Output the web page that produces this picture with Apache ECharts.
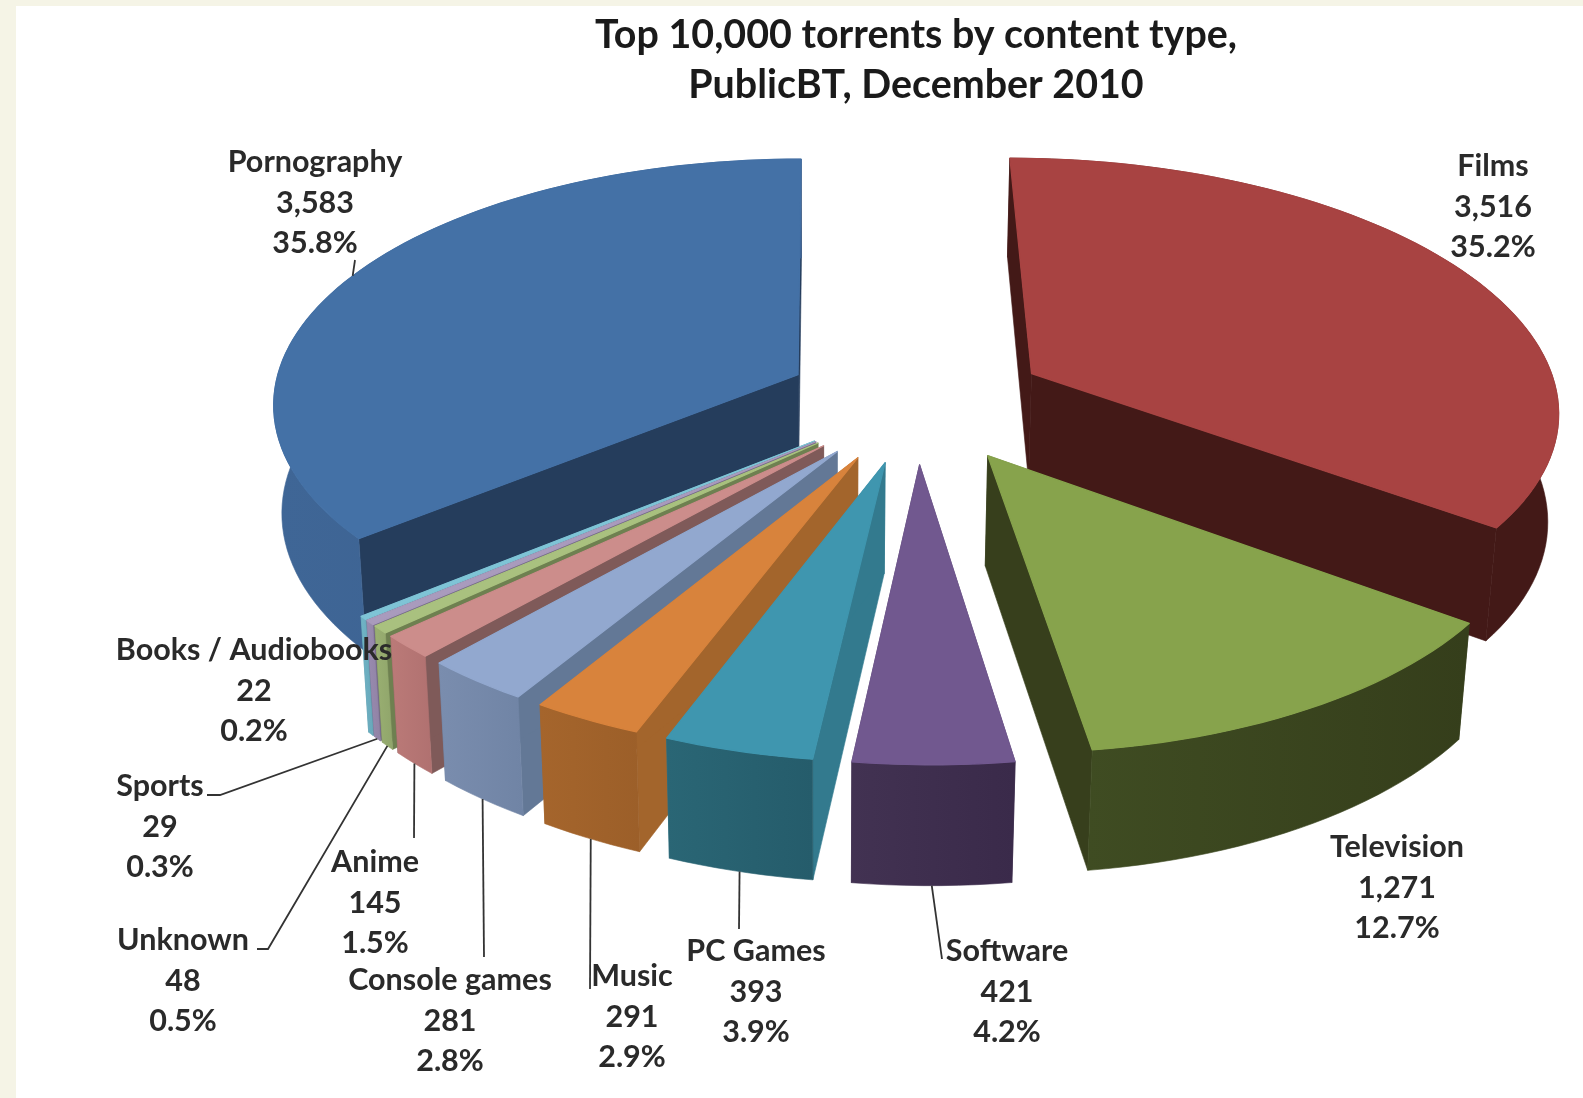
<!DOCTYPE html>
<html>
<head>
<meta charset="utf-8">
<style>html,body{margin:0;padding:0;background:#fff}#chart{width:1583px;height:1098px}</style>
<script src="https://cdn.jsdelivr.net/npm/echarts@6/dist/echarts.min.js"></script>
</head>
<body>
<div id="chart"></div>
<script>
// Torrent counts, clockwise from twelve o'clock
const categories = ['Films', 'Television', 'Software', 'PC Games', 'Music', 'Console games', 'Anime', 'Unknown', 'Sports', 'Books / Audiobooks', 'Pornography'];
const torrents = [3516, 1271, 421, 393, 291, 281, 145, 48, 29, 22, 3583];
const chartTitle = 'Top 10,000 torrents by content type,\nPublicBT, December 2010';

// Slice colours: top face, outer wall (left and right shade), cut walls
const topColors = ['#A84342', '#87A34C', '#71588F', '#3F96AF', '#D8833C', '#92A8CF', '#CC8D8B', '#A9C17F', '#A99BBD', '#7FC4D6', '#4471A6'];
const rimLeft = ['#431917', '#3F4C22', '#423252', '#2A6675', '#A5652C', '#7A8DAE', '#BB7A78', '#9AB072', '#9A8CB0', '#70B4C6', '#3F6696'];
const rimRight = ['#431917', '#353E1B', '#3A2A4A', '#255C6B', '#9C5F29', '#7084A5', '#B07170', '#90A56B', '#9082A5', '#68A8BA', '#3B5F8E'];
const wallColors = ['#431917', '#373F1C', '#3A2A4A', '#337A8E', '#A3652C', '#637896', '#7F5A59', '#6E8050', '#75698A', '#5A97A8', '#253D5C'];

// Back-to-front drawing sequence
const paintOrder = [0, 10, 9, 8, 7, 6, 5, 4, 3, 2, 1];

// Label anchors: centre x and top y of the text block, leader route as screen points
const labelAnchors = [
  { x: 1493, y: 146 }, { x: 1397, y: 827 }, { x: 1007, y: 931 }, { x: 756, y: 931 },
  { x: 632, y: 956 }, { x: 450, y: 960 }, { x: 375, y: 842 }, { x: 183, y: 920 },
  { x: 160, y: 766 }, { x: 254, y: 630 }, { x: 315, y: 142 }
];
const leaderEnds = [
  null, null, [[942, 959]], [[739, 929]],
  [[590, 989]], [[484, 957]], [[414, 838]], [[268, 949], [257, 949]],
  [[220, 795], [207, 795]], null, [[355, 260]]
];

// Perspective camera: pie radius is 1 in world units
const cam = { px: 827, py: 401, f: 527, g: 247.4, h: 110, r: 0.12, q: 0.015, offsetX: 0.170, explode: 0.25, depth: 1 };

const total = torrents.reduce((a, b) => a + b, 0);
const fractions = torrents.map(v => v / total);
let acc = 0;
const startFrac = fractions.map(v => { const s = acc; acc += v; return s; });

function project(x, t, d) {
  const w = 1 + cam.r * t + cam.q * d;
  return [cam.px + cam.f * (cam.offsetX + x) / w, cam.py + (-cam.g * t + cam.h * d) / w];
}

// Apex of an exploded slice plus its rim sampled in world units
function sliceGeometry(i) {
  const a0 = startFrac[i] * 2 * Math.PI;
  const a1 = (startFrac[i] + fractions[i]) * 2 * Math.PI;
  const mid = (a0 + a1) / 2;
  const ax = Math.sin(mid) * cam.explode;
  const at = Math.cos(mid) * cam.explode;
  const steps = Math.max(2, Math.ceil((a1 - a0) / 0.03));
  const rim = [];
  for (let k = 0; k <= steps; k++) {
    const a = a0 + (a1 - a0) * k / steps;
    rim.push([ax + Math.sin(a), at + Math.cos(a)]);
  }
  return { ax, at, mid, rim };
}

function renderSlice(params, api) {
  const i = api.value(0);
  const g = sliceGeometry(i);
  const apexTop = project(g.ax, g.at, 0);
  const apexBot = project(g.ax, g.at, cam.depth);
  const rimTop = g.rim.map(p => project(p[0], p[1], 0));
  const rimBot = g.rim.map(p => project(p[0], p[1], cam.depth));
  const first = 0, last = g.rim.length - 1;
  const poly = (points, fill, strokeWidth) => ({
    type: 'polygon',
    shape: { points },
    style: { fill, stroke: fill, lineWidth: strokeWidth, lineJoin: 'round' }
  });
  const rimFill = {
    type: 'linear', x: 0, y: 0, x2: 1, y2: 0,
    colorStops: [{ offset: 0, color: rimLeft[i] }, { offset: 1, color: rimRight[i] }]
  };
  return {
    type: 'group',
    children: [
      poly([apexTop, rimTop[first], rimBot[first], apexBot], wallColors[i], 0.6),
      poly([apexTop, rimTop[last], rimBot[last], apexBot], wallColors[i], 0.6),
      poly(rimTop.concat(rimBot.slice().reverse()), rimFill, 0.6),
      poly([apexTop].concat(rimTop), topColors[i], 1.2)
    ]
  };
}

function renderLabel(params, api) {
  const i = api.value(0);
  const count = torrents[i].toLocaleString('en-US');
  const pct = (fractions[i] * 100).toFixed(1) + '%';
  const anchor = labelAnchors[i];
  const children = [];
  if (leaderEnds[i]) {
    const g = sliceGeometry(i);
    const mx = g.ax + Math.sin(g.mid), mt = g.at + Math.cos(g.mid);
    const onBack = Math.cos(g.mid) > 0;
    const start = project(mx, mt, onBack ? 0 : cam.depth);
    children.push({
      type: 'polyline',
      shape: { points: [start].concat(leaderEnds[i]) },
      style: { fill: null, stroke: '#333333', lineWidth: 1.8 }
    });
  }
  children.push({
    type: 'text',
    x: anchor.x, y: anchor.y,
    style: {
      text: categories[i] + '\n' + count + '\n' + pct,
      x: 0, y: 0,
      align: 'center', verticalAlign: 'top',
      fontFamily: 'Lato', fontWeight: 'bold', fontSize: 30.5, lineHeight: 40.5,
      fill: '#2a2a2a'
    }
  });
  return { type: 'group', children };
}

const chart = echarts.init(document.getElementById('chart'), null, { renderer: 'canvas' });
chart.setOption({
  animation: false,
  backgroundColor: '#F5F4E6',
  graphic: [{
    type: 'rect', left: 16, top: 6, z: -10, silent: true,
    shape: { width: 1567, height: 1092 },
    style: { fill: '#ffffff' }
  }],
  title: {
    text: chartTitle, left: 911, top: 5, textAlign: 'center',
    textStyle: { fontFamily: 'Lato', fontWeight: 'bold', fontSize: 39.4, lineHeight: 50, color: '#1a1a1a' }
  },
  series: [
    {
      type: 'custom', coordinateSystem: 'none', silent: true, z: 2,
      renderItem: renderSlice,
      data: paintOrder.map(i => ({ name: categories[i], value: [i, torrents[i]] }))
    },
    {
      type: 'custom', coordinateSystem: 'none', silent: true, z: 3,
      renderItem: renderLabel,
      data: paintOrder.map(i => ({ name: categories[i], value: [i, torrents[i]] }))
    }
  ]
});
</script>
</body>
</html>
